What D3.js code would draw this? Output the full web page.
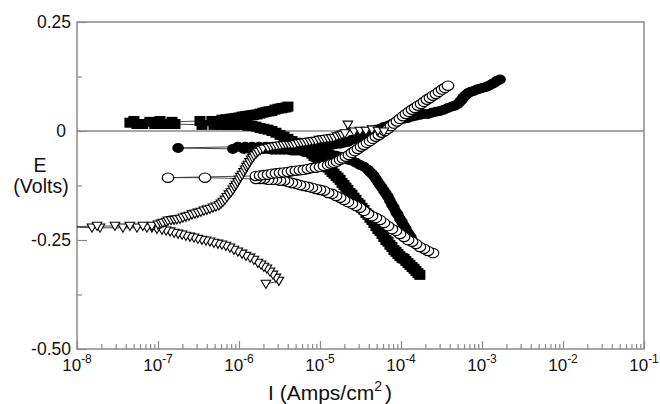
<!DOCTYPE html>
<html>
<head>
<meta charset="utf-8">
<script src="https://cdn.jsdelivr.net/npm/d3@7"></script>
<style>
  html, body { margin: 0; padding: 0; background: #fff; }
  svg { display: block; font-family: "Liberation Sans", Arial, Helvetica, sans-serif; }
</style>
</head>
<body>
<svg id="chart" width="660" height="404"></svg>
<script>
// Polarization scans, each point is [current density I (A/cm^2), potential E (V)],
// listed in scan order: cathodic branch up to the corrosion potential, then anodic branch.

const filledSquares = [
  [1.71e-4,-0.330],[1.62e-4,-0.326],[1.53e-4,-0.321],[1.45e-4,-0.316],[1.37e-4,-0.312],
  [1.29e-4,-0.307],[1.22e-4,-0.303],[1.15e-4,-0.298],[1.09e-4,-0.293],[1.03e-4,-0.291],
  [9.69e-5,-0.287],[9.16e-5,-0.282],[8.66e-5,-0.277],[8.18e-5,-0.273],[7.73e-5,-0.266],
  [7.30e-5,-0.261],[6.90e-5,-0.254],[6.52e-5,-0.250],[6.15e-5,-0.243],[5.82e-5,-0.236],
  [5.50e-5,-0.229],[5.19e-5,-0.225],[4.90e-5,-0.218],[4.63e-5,-0.211],[4.38e-5,-0.204],
  [4.14e-5,-0.199],[3.91e-5,-0.192],[3.69e-5,-0.188],[3.49e-5,-0.181],[3.30e-5,-0.176],
  [3.11e-5,-0.169],[2.94e-5,-0.165],[2.78e-5,-0.158],[2.63e-5,-0.153],[2.48e-5,-0.146],
  [2.34e-5,-0.142],[2.21e-5,-0.135],[2.09e-5,-0.130],[1.98e-5,-0.124],[1.87e-5,-0.119],
  [1.77e-5,-0.112],[1.67e-5,-0.107],[1.58e-5,-0.103],[1.49e-5,-0.098],[1.41e-5,-0.094],
  [1.33e-5,-0.089],[1.26e-5,-0.084],[1.19e-5,-0.080],[1.12e-5,-0.075],[1.06e-5,-0.071],
  [1.00e-5,-0.066],[9.42e-6,-0.064],[8.91e-6,-0.059],[8.41e-6,-0.057],[7.94e-6,-0.052],
  [7.50e-6,-0.048],[7.09e-6,-0.045],[6.70e-6,-0.043],[6.33e-6,-0.039],[5.98e-6,-0.036],
  [5.65e-6,-0.034],[5.04e-6,-0.027],[4.50e-6,-0.023],[4.02e-6,-0.018],[3.59e-6,-0.013],
  [3.21e-6,-0.009],[2.86e-6,-0.004],[2.55e-6,0.000],[2.28e-6,0.003],[2.03e-6,0.005],
  [1.82e-6,0.007],[1.62e-6,0.010],[1.45e-6,0.012],[1.29e-6,0.012],[1.15e-6,0.014],
  [1.03e-6,0.014],[9.16e-7,0.014],[8.17e-7,0.014],[6.89e-7,0.014],[5.98e-7,0.014],
  [4.90e-7,0.014],[3.49e-7,0.014],[1.62e-7,0.016],[1.37e-7,0.016],[1.12e-7,0.016],
  [9.16e-8,0.016],[6.50e-8,0.016],[5.50e-8,0.016],[4.50e-8,0.019],
  [5.04e-8,0.023],[7.94e-8,0.021],[1.06e-7,0.023],[1.49e-7,0.021],[3.30e-7,0.023],
  [4.63e-7,0.023],[6.15e-7,0.026],[6.89e-7,0.027],[7.72e-7,0.028],[8.41e-7,0.029],
  [9.16e-7,0.030],[1.00e-6,0.031],[1.09e-6,0.033],[1.19e-6,0.034],[1.29e-6,0.035],
  [1.41e-6,0.036],[1.53e-6,0.037],[1.67e-6,0.038],[1.82e-6,0.040],[1.98e-6,0.042],
  [2.15e-6,0.044],[2.34e-6,0.045],[2.55e-6,0.046],[2.78e-6,0.049],[3.03e-6,0.051],
  [3.30e-6,0.052],[3.49e-6,0.053],[3.80e-6,0.054],[4.02e-6,0.056]
];

const filledCircles = [
  [1.41e-4,-0.254],[1.33e-4,-0.245],[1.29e-4,-0.241],[1.22e-4,-0.234],[1.15e-4,-0.225],
  [1.09e-4,-0.218],[1.03e-4,-0.209],[9.69e-5,-0.202],[9.16e-5,-0.192],[8.66e-5,-0.186],
  [8.18e-5,-0.176],[7.73e-5,-0.169],[7.30e-5,-0.160],[6.90e-5,-0.151],[6.52e-5,-0.144],
  [6.15e-5,-0.137],[5.82e-5,-0.130],[5.50e-5,-0.124],[5.19e-5,-0.117],[4.90e-5,-0.110],
  [4.63e-5,-0.103],[4.38e-5,-0.098],[4.14e-5,-0.094],[3.91e-5,-0.089],[3.49e-5,-0.082],
  [3.11e-5,-0.078],[2.78e-5,-0.073],[2.48e-5,-0.068],[2.21e-5,-0.066],[1.98e-5,-0.062],
  [1.77e-5,-0.059],[1.58e-5,-0.057],[1.41e-5,-0.055],[1.26e-5,-0.052],[1.12e-5,-0.052],
  [1.00e-5,-0.050],[8.91e-6,-0.050],[7.94e-6,-0.048],[7.09e-6,-0.048],[6.33e-6,-0.048],
  [5.65e-6,-0.045],[5.04e-6,-0.045],[4.50e-6,-0.045],[4.02e-6,-0.043],[3.59e-6,-0.043],
  [3.21e-6,-0.043],[2.86e-6,-0.043],[2.55e-6,-0.043],[2.28e-6,-0.041],[2.03e-6,-0.041],
  [1.82e-6,-0.041],[1.62e-6,-0.041],[1.37e-6,-0.041],[1.15e-6,-0.041],[8.41e-7,-0.041],
  [1.77e-7,-0.039],
  [9.69e-7,-0.036],[1.19e-6,-0.036],[1.45e-6,-0.036],[1.77e-6,-0.036],[2.15e-6,-0.036],
  [2.63e-6,-0.036],[3.21e-6,-0.036],[3.80e-6,-0.036],[4.50e-6,-0.036],[5.04e-6,-0.036],
  [5.65e-6,-0.036],[6.33e-6,-0.036],[7.09e-6,-0.036],[7.94e-6,-0.036],[8.91e-6,-0.036],
  [1.00e-5,-0.035],[1.12e-5,-0.034],[1.26e-5,-0.032],[1.41e-5,-0.032],[1.58e-5,-0.030],
  [1.77e-5,-0.029],[1.98e-5,-0.027],[2.21e-5,-0.025],[2.48e-5,-0.020],[2.78e-5,-0.018],
  [3.11e-5,-0.013],[3.49e-5,-0.011],[3.91e-5,-0.006],[4.38e-5,-0.002],[4.90e-5,0.003],
  [5.50e-5,0.005],[6.15e-5,0.009],[6.90e-5,0.012],[7.73e-5,0.016],[8.66e-5,0.021],
  [9.69e-5,0.026],[1.09e-4,0.028],[1.22e-4,0.030],[1.37e-4,0.033],[1.53e-4,0.035],
  [1.71e-4,0.037],[1.92e-4,0.039],[2.15e-4,0.039],[2.41e-4,0.042],[2.70e-4,0.044],
  [3.03e-4,0.046],[3.39e-4,0.049],[3.80e-4,0.053],[4.25e-4,0.056],[4.63e-4,0.058],
  [5.04e-4,0.062],[5.34e-4,0.067],[5.65e-4,0.072],[5.82e-4,0.076],[6.15e-4,0.081],
  [6.52e-4,0.085],[6.89e-4,0.088],[7.30e-4,0.090],[7.94e-4,0.092],[8.65e-4,0.095],
  [9.42e-4,0.097],[1.03e-3,0.099],[1.12e-3,0.101],[1.22e-3,0.104],[1.33e-3,0.108],
  [1.41e-3,0.110],[1.53e-3,0.115],[1.67e-3,0.118]
];

const openCircles = [
  [2.48e-4,-0.280],[2.15e-4,-0.275],[1.92e-4,-0.270],[1.71e-4,-0.266],[1.53e-4,-0.259],
  [1.37e-4,-0.254],[1.22e-4,-0.250],[1.09e-4,-0.243],[9.69e-5,-0.236],[8.66e-5,-0.229],
  [7.73e-5,-0.225],[6.90e-5,-0.218],[6.15e-5,-0.211],[5.50e-5,-0.204],[4.90e-5,-0.199],
  [4.38e-5,-0.195],[3.91e-5,-0.190],[3.49e-5,-0.183],[3.11e-5,-0.176],[2.78e-5,-0.172],
  [2.48e-5,-0.167],[2.21e-5,-0.163],[1.98e-5,-0.158],[1.77e-5,-0.153],[1.58e-5,-0.149],
  [1.41e-5,-0.144],[1.26e-5,-0.142],[1.12e-5,-0.137],[1.00e-5,-0.135],[8.91e-6,-0.133],
  [7.94e-6,-0.130],[7.09e-6,-0.128],[6.33e-6,-0.126],[5.65e-6,-0.124],[5.04e-6,-0.121],
  [4.50e-6,-0.119],[4.02e-6,-0.117],[3.59e-6,-0.114],[3.21e-6,-0.114],[2.86e-6,-0.112],
  [2.55e-6,-0.112],[2.28e-6,-0.112],[2.03e-6,-0.110],[1.82e-6,-0.110],[1.62e-6,-0.110],
  [3.80e-7,-0.107],[1.33e-7,-0.107],
  [1.62e-6,-0.103],[1.82e-6,-0.102],[2.03e-6,-0.101],[2.28e-6,-0.100],[2.55e-6,-0.098],
  [2.86e-6,-0.097],[3.21e-6,-0.096],[3.59e-6,-0.095],[4.02e-6,-0.094],[4.50e-6,-0.092],
  [5.04e-6,-0.091],[5.65e-6,-0.090],[6.33e-6,-0.089],[7.09e-6,-0.087],[7.94e-6,-0.085],
  [8.91e-6,-0.084],[1.00e-5,-0.082],[1.12e-5,-0.080],[1.26e-5,-0.078],[1.37e-5,-0.075],
  [1.49e-5,-0.073],[1.62e-5,-0.070],[1.77e-5,-0.066],[1.92e-5,-0.063],[2.09e-5,-0.059],
  [2.28e-5,-0.055],[2.48e-5,-0.050],[2.70e-5,-0.046],[2.94e-5,-0.041],[3.21e-5,-0.036],
  [3.49e-5,-0.032],[3.80e-5,-0.027],[4.14e-5,-0.023],[4.50e-5,-0.018],[4.90e-5,-0.013],
  [5.34e-5,-0.009],[5.82e-5,-0.004],[6.34e-5,0.000],[6.90e-5,0.005],[7.51e-5,0.011],
  [8.18e-5,0.017],[8.91e-5,0.022],[9.69e-5,0.028],[1.06e-4,0.034],[1.15e-4,0.039],
  [1.25e-4,0.044],[1.37e-4,0.049],[1.49e-4,0.053],[1.62e-4,0.058],[1.77e-4,0.062],
  [1.92e-4,0.067],[2.09e-4,0.072],[2.28e-4,0.076],[2.48e-4,0.081],[2.70e-4,0.085],
  [2.94e-4,0.090],[3.21e-4,0.095],[3.49e-4,0.099],[3.80e-4,0.104]
];

const openTriangles = [
  [2.15e-6,-0.351],[3.11e-6,-0.344],[2.86e-6,-0.337],[2.63e-6,-0.330],[2.41e-6,-0.323],
  [2.21e-6,-0.316],[2.03e-6,-0.312],[1.87e-6,-0.307],[1.71e-6,-0.303],[1.53e-6,-0.296],
  [1.37e-6,-0.291],[1.22e-6,-0.287],[1.09e-6,-0.282],[9.69e-7,-0.277],[8.65e-7,-0.273],
  [7.72e-7,-0.268],[6.89e-7,-0.264],[6.15e-7,-0.261],[5.50e-7,-0.259],[4.90e-7,-0.257],
  [4.38e-7,-0.254],[3.91e-7,-0.252],[3.49e-7,-0.250],[3.11e-7,-0.248],[2.78e-7,-0.245],
  [2.48e-7,-0.243],[2.21e-7,-0.241],[1.98e-7,-0.238],[1.77e-7,-0.236],[1.58e-7,-0.234],
  [1.41e-7,-0.231],[1.26e-7,-0.229],[1.12e-7,-0.227],[9.70e-8,-0.225],[8.41e-8,-0.222],
  [7.30e-8,-0.222],[5.50e-8,-0.222],[3.69e-8,-0.222],[1.92e-8,-0.222],[1.53e-8,-0.222],
  [8.20e-9,-0.220],
  [1.77e-8,-0.218],[2.94e-8,-0.218],[4.50e-8,-0.218],[6.50e-8,-0.218],[8.41e-8,-0.218],
  [1.00e-7,-0.215],[1.09e-7,-0.213],[1.15e-7,-0.211],[1.26e-7,-0.209],[1.33e-7,-0.206],
  [1.45e-7,-0.205],[1.58e-7,-0.204],[1.71e-7,-0.203],[1.87e-7,-0.202],[2.03e-7,-0.199],
  [2.21e-7,-0.197],[2.41e-7,-0.195],[2.63e-7,-0.192],[2.86e-7,-0.190],[3.11e-7,-0.188],
  [3.39e-7,-0.186],[3.69e-7,-0.183],[4.02e-7,-0.181],[4.38e-7,-0.179],[4.77e-7,-0.176],
  [5.19e-7,-0.174],[5.65e-7,-0.171],[5.98e-7,-0.167],[6.33e-7,-0.163],[6.70e-7,-0.158],
  [7.09e-7,-0.152],[7.50e-7,-0.146],[7.94e-7,-0.141],[8.41e-7,-0.135],[8.79e-7,-0.129],
  [9.16e-7,-0.124],[9.58e-7,-0.118],[1.00e-6,-0.112],[1.04e-6,-0.106],[1.09e-6,-0.101],
  [1.14e-6,-0.095],[1.19e-6,-0.089],[1.24e-6,-0.083],[1.29e-6,-0.078],[1.35e-6,-0.072],
  [1.41e-6,-0.066],[1.47e-6,-0.062],[1.53e-6,-0.057],[1.62e-6,-0.052],[1.71e-6,-0.048],
  [1.84e-6,-0.044],[1.98e-6,-0.041],[2.28e-6,-0.039],[2.48e-6,-0.037],[2.70e-6,-0.036],
  [2.94e-6,-0.035],[3.21e-6,-0.034],[3.49e-6,-0.033],[3.80e-6,-0.032],[4.14e-6,-0.032],
  [4.50e-6,-0.032],[4.90e-6,-0.031],[5.34e-6,-0.029],[5.82e-6,-0.028],[6.33e-6,-0.027],
  [6.89e-6,-0.026],[7.50e-6,-0.025],[8.17e-6,-0.024],[8.91e-6,-0.023],[9.70e-6,-0.021],
  [1.06e-5,-0.020],[1.15e-5,-0.019],[1.26e-5,-0.018],[1.37e-5,-0.017],[1.49e-5,-0.016],
  [1.62e-5,-0.013],[1.77e-5,-0.011],[1.87e-5,-0.009],[2.03e-5,-0.006],[2.21e-5,0.014],
  [2.63e-5,-0.002],[3.11e-5,0.000],[3.69e-5,0.000],[4.38e-5,0.003],[5.19e-5,0.000],
  [6.15e-5,-0.002]
];

// Axis ticks and labels
const xDomain = [1e-8, 1e-1];
const xMajorTicks = [1e-8, 1e-7, 1e-6, 1e-5, 1e-4, 1e-3, 1e-2, 1e-1];
const xTickExponents = ["-8", "-7", "-6", "-5", "-4", "-3", "-2", "-1"];
const yDomain = [-0.5, 0.25];
const yMajorTicks = [-0.5, -0.25, 0, 0.25];
const yTickLabels = ["-0.50", "-0.25", "0", "0.25"];
const yMinorTicks = [-0.375, -0.125, 0.125];

const plot = { left: 77, right: 644, top: 22, bottom: 349 };
const frameColor = "#8a8a8a";
const inkColor = "#111";

const svg = d3.select("#chart");

const x = d3.scaleLog().domain(xDomain).range([plot.left, plot.right]);
const y = d3.scaleLinear().domain(yDomain).range([plot.bottom, plot.top]);

svg.append("defs").append("clipPath").attr("id", "plot-clip")
  .append("rect")
  .attr("x", plot.left).attr("y", plot.top)
  .attr("width", plot.right - plot.left).attr("height", plot.bottom - plot.top);

// zero-potential reference line
svg.append("line")
  .attr("x1", plot.left).attr("x2", plot.right)
  .attr("y1", y(0)).attr("y2", y(0))
  .attr("stroke", frameColor).attr("stroke-width", 1.5);

// x ticks (inside, pointing up)
const xMinorTicks = x.ticks(20).filter(v => !xMajorTicks.some(m => Math.abs(Math.log10(v) - Math.log10(m)) < 1e-6));
function styleAxis(g) {
  g.select(".domain").remove();
  g.selectAll(".tick line").attr("stroke", frameColor).attr("stroke-width", 1.2);
  g.selectAll(".tick text").remove();
}
svg.append("g").attr("transform", `translate(0,${plot.bottom})`)
  .call(d3.axisBottom(x).tickValues(xMajorTicks).tickSize(-8).tickSizeOuter(0))
  .call(styleAxis);
svg.append("g").attr("transform", `translate(0,${plot.bottom})`)
  .call(d3.axisBottom(x).tickValues(xMinorTicks).tickSize(-5).tickSizeOuter(0))
  .call(styleAxis);

// y ticks (inside, pointing right)
svg.append("g").attr("transform", `translate(${plot.left},0)`)
  .call(d3.axisLeft(y).tickValues(yMajorTicks).tickSize(-10).tickSizeOuter(0))
  .call(styleAxis);
svg.append("g").attr("transform", `translate(${plot.left},0)`)
  .call(d3.axisLeft(y).tickValues(yMinorTicks).tickSize(-5).tickSizeOuter(0))
  .call(styleAxis);

// plot frame
svg.append("rect")
  .attr("x", plot.left).attr("y", plot.top)
  .attr("width", plot.right - plot.left).attr("height", plot.bottom - plot.top)
  .attr("fill", "none").attr("stroke", frameColor).attr("stroke-width", 1.5);

// y tick labels
svg.append("g").selectAll("text").data(yMajorTicks).join("text")
  .attr("x", (d, i) => yTickLabels[i] === "0" ? 66 : 71)
  .attr("y", d => y(d) + 6)
  .attr("text-anchor", "end")
  .attr("font-size", 17.5)
  .attr("fill", inkColor)
  .text((d, i) => yTickLabels[i]);

// x tick labels: powers of ten
const xl = svg.append("g").selectAll("text").data(xMajorTicks).join("text")
  .attr("x", d => x(d))
  .attr("y", 371)
  .attr("text-anchor", "middle")
  .attr("fill", inkColor)
  .attr("font-size", 17);
xl.append("tspan").text("10");
xl.append("tspan").attr("dy", -8).attr("font-size", 12).text((d, i) => xTickExponents[i]);

// axis titles
svg.append("text").attr("x", 40).attr("y", 172).attr("text-anchor", "middle")
  .attr("font-size", 19.5).attr("fill", inkColor).text("E");
svg.append("text").attr("x", 41).attr("y", 193).attr("text-anchor", "middle")
  .attr("font-size", 19.5).attr("fill", inkColor).text("(Volts)");
const xt = svg.append("text").attr("x", 268).attr("y", 400)
  .attr("font-size", 21).attr("fill", inkColor);
xt.append("tspan").text("I (Amps/cm");
xt.append("tspan").attr("dy", -9).attr("font-size", 14).text("2");
xt.append("tspan").attr("dy", 9).attr("dx", 3).text(")");

// data series
const symbols = {
  square: (g) => g.append("rect").attr("x", -5.5).attr("y", -5).attr("width", 11).attr("height", 10)
    .attr("fill", "#000"),
  disc: (g) => g.append("ellipse").attr("rx", 5.8).attr("ry", 5).attr("fill", "#000"),
  ring: (g) => g.append("ellipse").attr("rx", 5.8).attr("ry", 4.7)
    .attr("fill", "#fff").attr("stroke", "#000").attr("stroke-width", 1.15),
  triangleDown: (g) => g.append("path").attr("d", "M-4.8,-3.8L4.8,-3.8L0,4.4Z")
    .attr("fill", "#fff").attr("stroke", "#000").attr("stroke-width", 1.1)
};

const series = [
  { data: filledSquares, symbol: "square" },
  { data: filledCircles, symbol: "disc" },
  { data: openCircles, symbol: "ring" },
  { data: openTriangles, symbol: "triangleDown" }
];

const line = d3.line().x(d => x(d[0])).y(d => y(d[1]));
const dataLayer = svg.append("g").attr("clip-path", "url(#plot-clip)");

series.forEach(s => {
  const g = dataLayer.append("g");
  g.append("path").datum(s.data).attr("d", line)
    .attr("fill", "none").attr("stroke", "#333").attr("stroke-width", 0.9);
  g.selectAll("g.pt").data(s.data).join("g")
    .attr("class", "pt")
    .attr("transform", d => `translate(${x(d[0])},${y(d[1])})`)
    .each(function () { symbols[s.symbol](d3.select(this)); });
});
</script>
</body>
</html>
